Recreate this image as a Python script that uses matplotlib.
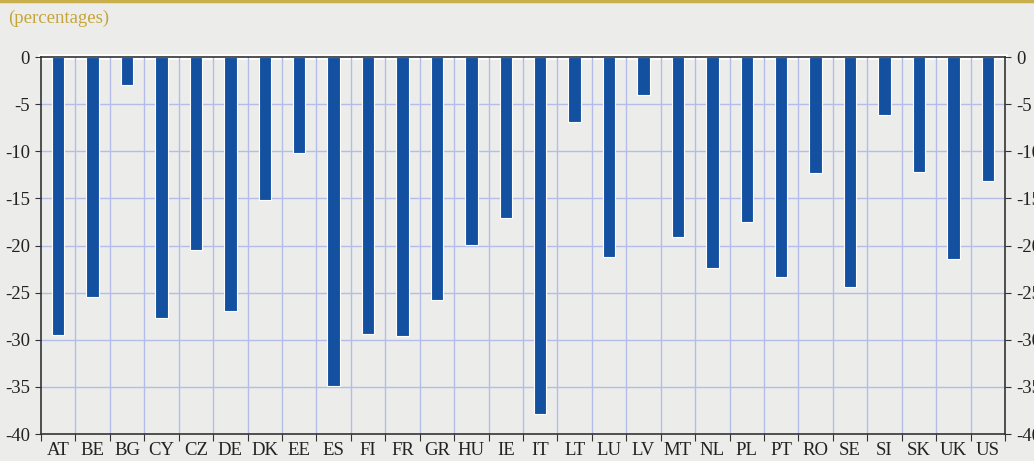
import matplotlib.pyplot as plt
import numpy as np

plt.rcParams['font.family'] = ['Liberation Serif', 'DejaVu Serif']

countries = ["AT", "BE", "BG", "CY", "CZ", "DE", "DK", "EE", "ES", "FI", "FR", "GR", "HU", "IE",
             "IT", "LT", "LU", "LV", "MT", "NL", "PL", "PT", "RO", "SE", "SI", "SK", "UK", "US"]
values = [-29.5, -25.5, -3.0, -27.7, -20.5, -27.0, -15.2, -10.2, -34.9, -29.4, -29.6, -25.8, -19.9, -17.1,
          -37.9, -6.9, -21.2, -4.0, -19.1, -22.4, -17.5, -23.3, -12.3, -24.4, -6.2, -12.2, -21.4, -13.2]
yticks = [0, -5, -10, -15, -20, -25, -30, -35, -40]

bg = '#ECEDEB'
fig = plt.figure(figsize=(10.34, 4.61), dpi=100, facecolor=bg)
ax = fig.add_axes([41 / 1034, 1 - 434 / 461, (1005 - 41) / 1034, (434 - 57) / 461])
ax.set_facecolor(bg)

x = np.arange(len(countries))
ax.bar(x, values, width=0.36, color='#1450A0', edgecolor='white', linewidth=0.8, zorder=3)

ax.set_xlim(-0.5, len(countries) - 0.5)
ax.set_ylim(-40, 0)

# grid: horizontal at ticks, vertical at category borders
for v in yticks[1:-1]:
    ax.axhline(v, color='#B4BCEA', lw=1, zorder=1)
for b in np.arange(0.5, len(countries) - 0.5, 1):
    ax.axvline(b, color='#B4BCEA', lw=1, zorder=1)

ax.set_xticks(np.arange(-0.5, len(countries), 1))
ax.set_xticklabels([])
ax.set_xticks(x, minor=True)
ax.set_xticklabels(countries, minor=True, fontsize=13.5, color='#222222')
ax.tick_params(axis='x', which='major', direction='out', length=5, color='#333333')
ax.tick_params(axis='x', which='minor', length=0, pad=6)

ax.set_yticks(yticks)
ax.set_yticklabels([str(v) for v in yticks], fontsize=13.5, color='#222222')
ax.tick_params(axis='y', direction='out', length=4, color='#333333',
               left=True, right=True, labelleft=True, labelright=True, pad=4)

for s in ax.spines.values():
    s.set_color('#333333')
    s.set_linewidth(1.2)
# thin white line just above the top border
ax.axhline(0, color='white', lw=4, zorder=0, clip_on=False)
ax.spines['top'].set_zorder(5)

fig.text(8 / 1034, 1 - 18 / 461, '(percentages)', fontsize=13.5, color='#C4A53A', va='center')
fig.add_artist(plt.Line2D([0, 1], [1 - 1.5 / 461, 1 - 1.5 / 461], color='#C9AE4C', lw=2.5))

fig.savefig('out.png', dpi=100, facecolor=bg)
